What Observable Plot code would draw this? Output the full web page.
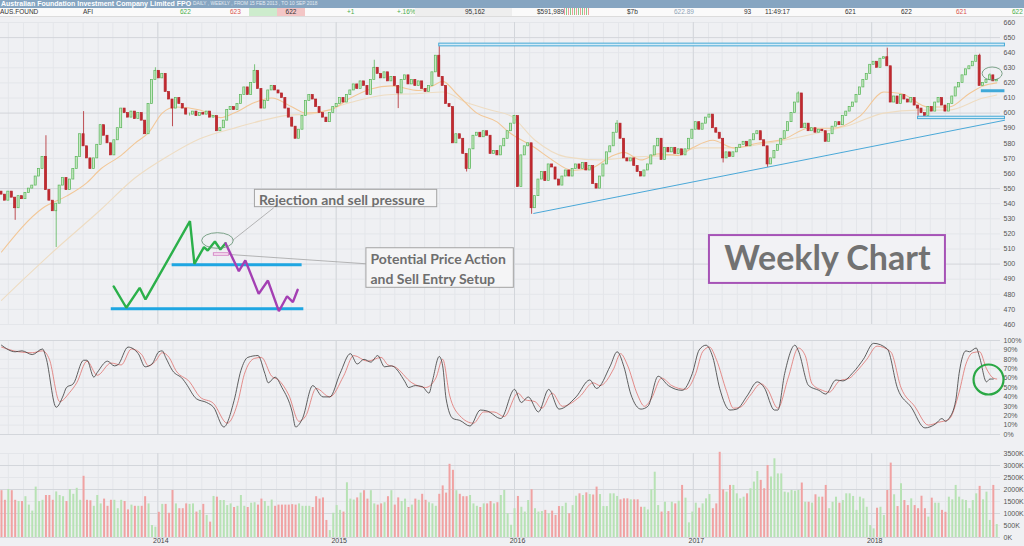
<!DOCTYPE html>
<html>
<head>
<meta charset="utf-8">
<script src="https://cdn.jsdelivr.net/npm/d3@7"></script>
<script src="https://cdn.jsdelivr.net/npm/@observablehq/plot@0.6"></script>
<style>
html,body{margin:0;padding:0;background:#eff0f3;}
#wrap{position:relative;width:1024px;height:546px;overflow:hidden;background:#eff0f3;font-family:"Liberation Sans",Arial,sans-serif;}
#tb{position:absolute;left:0;top:0;width:1024px;height:8px;background:#86a5c1;color:#fff;white-space:nowrap;}
#tb .t{position:absolute;left:1px;top:0;font-weight:bold;font-size:7px;line-height:8px;}
#tb .s{position:absolute;left:193px;top:0;font-size:4.8px;line-height:8px;color:#e4ebf2;}
#tk{position:absolute;left:0;top:8px;width:1024px;height:8px;background:#fafafa;border-bottom:1px solid #dcdcdc;font-size:6.5px;line-height:8px;color:#333;white-space:nowrap;}
#tk span{position:absolute;top:0;}
.panel{position:absolute;left:0;}
.panel svg{background:transparent;overflow:visible;}
</style>
</head>
<body>
<div id="wrap">
 <div id="tb"><span class="t">Australian Foundation Investment Company Limited FPO</span><span class="s">DAILY , WEEKLY , FROM 15 FEB 2013 , TO 10 SEP 2018</span></div>
 <div id="tk">
  <span style="left:0">AUS.FOUND</span>
  <span style="left:83px">AFI</span>
  <span style="left:180px;color:#4cae4c">622</span>
  <span style="left:230px;color:#d9534f">623</span>
  <span style="left:249px;width:28px;height:8px;background:#cdeccd"></span>
  <span style="left:277px;width:28px;height:8px;background:#f3c6c6;text-align:center">622</span>
  <span style="left:347px;color:#4cae4c">+1</span>
  <span style="left:397px;color:#4cae4c">+.16%</span>
  <span style="left:415px;width:97px;height:8px;background:#eeeeee"></span>
  <span style="left:465px">95,162</span>
  <span style="left:537px">$591,989</span>
  <span style="left:564px;width:25px;height:7px;background:repeating-linear-gradient(90deg,#e99 0 1px,transparent 1px 2px,#8c8 2px 3px,transparent 3px 4px)"></span>
  <span style="left:627px">$7b</span>
  <span style="left:674px;color:#8fa3b8">622.89</span>
  <span style="left:744px">93</span>
  <span style="left:765px">11:49:17</span>
  <span style="left:845px">621</span>
  <span style="left:901px">622</span>
  <span style="left:956px;color:#d9534f">621</span>
  <span style="left:1012px;color:#4cae4c">622</span>
 </div>
 <div id="price" class="panel" style="top:16px"></div>
 <div id="stoch" class="panel" style="top:335px"></div>
 <div id="vol" class="panel" style="top:440px"></div>
</div>
<script>
// ---------- DATA (weekly, from 15 Feb 2013) ----------
const firstOpen = 548;
const close = [
546,542,548,544,537,545,543,547,550,552,
558,563,571,549,542,535,540,552,557,549,
556,563,571,586,578,570,563,570,579,592,
585,580,572,582,590,603,600,597,601,596,
600,595,586,606,622,628,623,626,614,609,
603,610,606,603,599,599,601,598,600,599,
601,597,598,588,590,595,602,604,602,606,
612,617,612,620,628,616,603,608,615,618,
615,613,610,603,597,591,583,589,598,608,
612,609,604,600,597,594,600,604,606,610,
607,612,615,619,616,621,618,612,622,630,
626,623,627,621,624,618,613,622,625,619,
622,618,621,616,614,618,627,638,624,618,
606,604,580,586,583,573,563,576,585,587,
584,588,585,573,575,572,578,583,588,593,
598,551,572,578,580,537,545,556,561,555,
566,564,556,552,558,562,558,563,566,563,
567,562,565,553,550,558,566,574,578,587,
593,583,570,568,570,565,561,558,562,566,
572,578,583,569,577,574,577,573,576,572,
576,583,589,594,589,593,597,599,590,587,
583,570,574,571,574,577,579,581,578,582,
586,588,582,578,566,570,575,579,583,588,
594,600,607,613,590,593,588,590,587,589,
588,581,586,591,594,592,598,601,604,607,
612,617,622,626,632,634,630,636,637,631,
607,611,606,612,609,607,610,605,603,600,
598,604,601,607,610,605,601,606,611,617,
620,625,629,631,634,638,618,620,622,625,621,622];
// [week index, high, low] for the long wicks
const longWicks = [[4,null,528],[13,586,null],[16,null,510],[24,602,null],[45,631,null],[50,null,590],
[74,633,null],[109,636,null],[116,null,602],[128,645,null],[136,null,560],[155,null,532],[180,596,null],
[211,null,566],[224,null,563],[233,615,null],[259,644,null],[268,null,597],[286,640,null],[289,627,null]];
// volume, thousands
const volume = [
1950,1550,2000,1950,1550,1500,1500,1700,1350,1100,
2100,1500,1550,1750,1750,1550,1900,1750,1700,1500,
2000,1800,2050,1550,2550,1550,1530,1300,1750,1400,
1600,1300,1550,1550,1200,1550,1500,1150,1350,1300,
1300,1300,1700,1400,500,430,1050,1380,1380,1010,
1960,1400,1200,1200,1400,1380,1400,
1060,1130,1380,920,640,1710,1680,1540,1540,1330,
1400,1250,1300,1750,1300,1250,1430,1450,1350,1600,
1500,1300,1560,1300,1350,1350,1350,1350,1370,1350,
1400,1300,1300,1300,1250,1700,1600,1650,710,290,
1010,1330,1130,1060,2280,1600,1560,1650,1850,1950,
1600,1950,1400,1350,1400,1450,1700,1950,1350,1650,
1500,1600,1250,1350,1600,1550,1800,1550,1450,1400,
1300,1800,2150,1850,3050,2800,1950,1800,1700,1700,
1750,1400,1300,1250,1400,1400,1500,1400,1450,
1750,1960,990,510,1200,1710,1260,1060,1540,1990,
1200,1060,1080,1130,990,1100,920,1290,1290,1430,
990,1330,1720,1820,1750,1860,1790,1770,2100,1790,
1290,1290,1820,1820,1710,1570,1610,1610,1570,1570,
1570,1260,1260,1150,1990,2720,1330,1060,1470,1080,
1470,1400,1510,2170,1640,610,1060,1430,1220,1400,
1610,1790,1200,1400,3550,1990,1890,2170,2170,1820,
1610,1680,1820,2030,2310,2750,2380,2030,3000,2520,
3280,2650,2650,1890,1860,1960,1930,1960,2270,1470,
1470,1430,1780,1680,1680,2170,1200,1470,1680,1430,
1540,1820,1820,1710,1130,1680,1610,1260,500,360,
1220,1260,920,1960,3100,1780,1290,2240,1540,1330,
1610,1330,1200,1720,1200,850,1640,1430,1430,
1130,1050,1680,1570,2170,1680,1570,1540,1200,1540,1820,2130,1570,1890,710,2170,540];
// moving averages: [week index, value]
const maFast = [[0,508],[12,537],[19,545],[25,554],[29,563],[35,572],[39,580],[43,587],[47,600],[51,604],[58,602],[64,597],[68,600],[74,607],[79,610],[85,604],[89,600],[96,602],[102,610],[108,616],[114,618],[122,615],[126,618],[129,621],[133,613],[139,600],[145,594],[148,588],[156,577],[161,569],[167,562],[173,564],[178,571],[182,574],[187,569],[192,573],[198,572],[202,577],[208,582],[214,577],[221,580],[229,583],[236,590],[243,590],[251,598],[258,614],[263,613],[271,604],[277,604],[283,613],[287,618],[291,620]];
const maSlow = [[0,476],[6,489],[14,506],[29,536],[39,557],[49,572],[58,583],[68,590],[76,595],[82,598],[92,600],[102,607],[112,612],[122,613],[129,614],[136,607],[143,602],[149,598],[156,582],[165,571],[175,569],[185,571],[195,572],[204,577],[214,577],[221,579],[239,587],[248,592],[258,600],[268,602],[277,602],[287,610],[291,612]];
// stochastic %K (black) and %D (red): [week index, %]
const stochK = [[0,95],[4,88],[6,89],[9,85],[12,91],[13,82],[16,29],[18,41],[19,50],[21,54],[24,79],[25,79],[27,61],[28,66],[31,78],[33,73],[34,74],[37,93],[40,86],[42,72],[44,75],[46,88],[47,89],[48,82],[50,68],[53,59],[54,54],[57,38],[60,34],[62,29],[65,8],[68,36],[70,68],[72,82],[75,84],[77,65],[78,55],[80,61],[82,50],[85,24],[86,8],[88,17],[91,52],[94,40],[96,40],[99,65],[102,86],[104,75],[106,80],[108,77],[110,84],[112,72],[114,73],[118,56],[119,50],[121,52],[123,51],[125,44],[126,57],[128,83],[129,73],[130,38],[132,17],[134,15],[137,9],[140,26],[142,25],[146,17],[150,48],[152,34],[154,40],[157,24],[160,48],[163,27],[168,40],[172,58],[174,49],[178,73],[180,88],[182,72],[184,43],[187,27],[189,30],[192,62],[195,52],[199,47],[202,65],[204,90],[206,95],[208,82],[210,49],[213,26],[215,27],[218,41],[221,56],[223,50],[226,26],[227,26],[229,65],[232,95],[233,89],[236,52],[239,47],[241,43],[244,58],[246,57],[249,66],[252,80],[255,97],[259,91],[262,49],[266,29],[270,7],[273,11],[275,17],[276,14],[277,17],[279,36],[280,65],[282,89],[283,88],[285,92],[286,82],[288,56],[289,59],[290,59]];
const stochD = [[0,93],[5,88],[9,87],[12,89],[14,80],[17,35],[20,45],[22,55],[25,78],[28,63],[32,76],[35,74],[38,91],[41,85],[43,73],[45,78],[47,87],[49,82],[51,68],[55,56],[58,40],[62,33],[66,12],[69,33],[71,64],[74,81],[76,82],[79,62],[81,58],[84,42],[87,14],[89,20],[92,49],[96,40],[100,62],[103,84],[107,78],[111,82],[113,74],[115,72],[120,55],[124,50],[127,60],[129,80],[131,42],[134,20],[138,12],[141,24],[144,24],[147,19],[151,44],[153,37],[156,35],[158,28],[161,44],[164,30],[169,40],[173,55],[175,52],[179,70],[181,86],[183,74],[186,42],[188,30],[190,38],[193,60],[196,52],[200,48],[203,65],[205,88],[207,93],[209,80],[212,46],[214,28],[216,29],[219,42],[222,54],[224,48],[227,28],[230,60],[233,92],[235,84],[237,54],[240,47],[242,45],[245,57],[248,60],[250,67],[253,80],[256,94],[260,88],[263,50],[267,30],[271,10],[274,13],[277,16],[280,45],[282,75],[284,87],[286,88],[288,70],[290,60],[291,59]];
// annotations in [week index, price]
const resistanceBands = [{i1:128,i2:293.4,p1:644.2,p2:646.0},{i1:268,i2:293.4,p1:596.0,p2:597.6}];
const supportLevel = [{i1:286.5,i2:293.4,p:614.8}];
const trendLine = [{i1:155.5,p1:533.5,i2:293.4,p2:595.3}];
const sketchUp = [[32.8,485.2],[36.5,471.1],[40.4,484.3],[42.1,476.6],[55.1,528.4],[56.4,500.2],[59.2,511.2],[60.3,509.0],[62.4,515.0],[64.0,509.7],[65.5,513.8]];
const sketchDown = [[65.5,513.8],[69.4,495.3],[71.3,502.4],[75.2,480.3],[77.9,489.1],[81.1,468.8],[83.5,478.7],[85.2,474.8],[86.6,483.0]];
const sketchLevels = [{i1:49.9,i2:87.9,p:499.5},{i1:32.1,i2:88.4,p:470.4}];
const sketchEntry = [{i1:62.1,i2:66.5,p1:505.5,p2:507.2}];
const leaders = [{i1:67.5,p1:515.6,i2:79.6,p2:537.3},{i1:66.4,p1:506.4,i2:106.7,p2:500.2}];
const noteBoxes = [{i1:74.1,i2:127.4,p1:537.7,p2:549.2},{i1:106.7,i2:149.8,p1:484.3,p2:510.5}];
const notes = [{i:75.3,p:543.4,text:"Rejection and sell pressure"},{i:107.9,p:497.6,text:"Potential Price Action\nand Sell Entry Setup"}];
const titleBox = [{i1:207.0,i2:276.0,p1:487.2,p2:518.9}];
const titleNote = [{i:241.5,p:503.0,text:"Weekly Chart"}];
const ellipses = [{i:63.3,p:515.3,rx:15.8,ry:7.8},{i:289.8,p:625.9,rx:10,ry:6.5}];
const stochCircle = [{i:288.6,v:58.5}];
const priceTicks = d3.range(460, 661, 10);
const stochTicks = d3.range(0, 101, 10);
const volTicks = d3.range(0, 3501, 500);

// ---------- helpers ----------
const DAY = 864e5;
const start = Date.UTC(2013, 1, 15);
const wk = i => new Date(start + i * 7 * DAY);
const candles = close.map((c, i) => {
  const o = i ? close[i - 1] : firstOpen;
  const w = longWicks.find(d => d[0] === i) || [];
  return {date: wk(i), o, c, hi: Math.max(o, c, w[1] ?? -Infinity), lo: Math.min(o, c, w[2] ?? Infinity), up: c >= o, vol: volume[i]};
});
const ups = candles.filter(d => d.up), downs = candles.filter(d => !d.up);
const months = d3.utcMonth.range(wk(-1), wk(293));
const years = d3.utcYear.range(wk(0), wk(292));
const X0 = wk(-0.29), X1 = wk(292.1);
const xScale = {type: "utc", domain: [X0, X1], axis: null};
const W = 1024, ML = 0, MR = 24;
const common = {width: W, marginLeft: ML, marginRight: MR, style: {background: "transparent", fontFamily: "Liberation Sans, Arial, sans-serif", fontSize: "7px", color: "#555", overflow: "visible"}};
const G1 = "#e4e6ea", G2 = "#d3d6db";
const bw = 2.1 * DAY;

// ---------- price panel ----------
const pricePlot = Plot.plot({
  ...common, height: 319, marginTop: 6, marginBottom: 11,
  x: xScale, y: {domain: [460, 660], label: null},
  marks: [
    Plot.ruleX(months, {stroke: G1, y1: 460, y2: 660}),
    Plot.ruleY(priceTicks.filter(d => d % 50 !== 0), {stroke: G1, x1: X0, x2: X1}),
    Plot.ruleY(priceTicks.filter(d => d % 50 === 0), {stroke: G2, x1: X0, x2: X1}),
    Plot.ruleX(years, {stroke: G2, y1: 460, y2: 660}),
    Plot.axisY({ticks: priceTicks, anchor: "right", tickSize: 0, tickPadding: 3, fontSize: 7, fill: "#555", label: null}),
    Plot.line(maSlow, {x: d => wk(d[0]), y: d => d[1], stroke: "#eedcc2", strokeWidth: 1.1, curve: "monotone-x"}),
    Plot.line(maFast, {x: d => wk(d[0]), y: d => d[1], stroke: "#f2c797", strokeWidth: 1.1, curve: "monotone-x"}),
    Plot.ruleX(ups, {x: "date", y1: "lo", y2: "hi", stroke: "#5cb85c", strokeWidth: 0.8, insetTop: -1.5, insetBottom: -1.5}),
    Plot.ruleX(downs, {x: "date", y1: "lo", y2: "hi", stroke: "#b2262c", strokeWidth: 0.8, insetTop: -1.5, insetBottom: -1.5}),
    Plot.rect(ups, {x1: d => new Date(+d.date - bw), x2: d => new Date(+d.date + bw), y1: "o", y2: "c", fill: "#c8e9c4", stroke: "#58b558", strokeWidth: 0.7}),
    Plot.rect(downs, {x1: d => new Date(+d.date - bw), x2: d => new Date(+d.date + bw), y1: "o", y2: "c", fill: "#c22a2f", stroke: "#b3232a", strokeWidth: 0.7}),
    // chart levels
    Plot.rect(resistanceBands, {x1: d => wk(d.i1), x2: d => wk(d.i2), y1: "p1", y2: "p2", fill: "#d5ecf7", stroke: "#45a9d6", strokeWidth: 1}),
    Plot.ruleY(supportLevel, {y: "p", x1: d => wk(d.i1), x2: d => wk(d.i2), stroke: "#3fa9d9", strokeWidth: 3}),
    Plot.link(trendLine, {x1: d => wk(d.i1), y1: "p1", x2: d => wk(d.i2), y2: "p2", stroke: "#4aa8d8", strokeWidth: 1}),
    // sketch
    Plot.ruleY(sketchLevels, {y: "p", x1: d => wk(d.i1), x2: d => wk(d.i2), stroke: "#1ea6e2", strokeWidth: 3}),
    Plot.link(leaders, {x1: d => wk(d.i1), y1: "p1", x2: d => wk(d.i2), y2: "p2", stroke: "#9a9a9a", strokeWidth: 0.7}),
    Plot.line(sketchUp, {x: d => wk(d[0]), y: d => d[1], stroke: "#2bb04a", strokeWidth: 2.4, strokeLinejoin: "miter"}),
    Plot.line(sketchDown, {x: d => wk(d[0]), y: d => d[1], stroke: "#a43fb3", strokeWidth: 2.4, strokeLinejoin: "miter"}),
    Plot.rect(sketchEntry, {x1: d => wk(d.i1), x2: d => wk(d.i2), y1: "p1", y2: "p2", fill: "#f8e6f3", stroke: "#d68cc8", strokeWidth: 1}),
    // notes
    Plot.rect(noteBoxes, {x1: d => wk(d.i1), x2: d => wk(d.i2), y1: "p1", y2: "p2", fill: "#f5f5f6", stroke: "#a3a3a3", strokeWidth: 1}),
    Plot.text(notes, {x: d => wk(d.i), y: "p", text: "text", textAnchor: "start", fontFamily: "Lato", fontWeight: "bold", fontSize: 14, fill: "#6e6e6e", lineHeight: 1.42}),
    Plot.rect(titleBox, {x1: d => wk(d.i1), x2: d => wk(d.i2), y1: "p1", y2: "p2", fill: "#f2f2f5", stroke: "#a653b6", strokeWidth: 2}),
    Plot.text(titleNote, {x: d => wk(d.i), y: "p", text: "text", fontFamily: "Lato", fontWeight: "bold", fontSize: 34, fill: "#727272"})
  ]
});
// ellipses drawn through the plot's own scales
try {
  const sx = pricePlot.scale("x"), sy = pricePlot.scale("y");
  const g = d3.select(pricePlot).append("g").attr("fill", "none");
  ellipses.forEach(e => g.append("ellipse")
    .attr("cx", sx.apply(wk(e.i))).attr("cy", sy.apply(e.p))
    .attr("rx", e.rx).attr("ry", e.ry)
    .attr("stroke", "#5f8f6f").attr("stroke-width", 0.8));
} catch (err) {}
document.getElementById("price").append(pricePlot);

// ---------- stochastic panel ----------
const stochPlot = Plot.plot({
  ...common, height: 105, marginTop: 5, marginBottom: 6,
  x: xScale, y: {domain: [0, 100], label: null},
  marks: [
    Plot.ruleX(months, {stroke: G1, y1: 0, y2: 100}),
    Plot.ruleY(stochTicks.filter(d => d % 100 !== 0), {stroke: G1, x1: X0, x2: X1}),
    Plot.ruleY([0, 100], {stroke: G2, x1: X0, x2: X1}),
    Plot.ruleX(years, {stroke: G2, y1: 0, y2: 100}),
    Plot.axisY({ticks: stochTicks, tickFormat: d => d + "%", anchor: "right", tickSize: 0, tickPadding: 3, fontSize: 7, fill: "#555", label: null}),
    Plot.line(stochD, {x: d => wk(d[0]), y: d => d[1], stroke: "#e0726e", strokeWidth: 0.8, curve: "monotone-x"}),
    Plot.line(stochK, {x: d => wk(d[0]), y: d => d[1], stroke: "#3a3a3a", strokeWidth: 0.8, curve: "monotone-x"}),
    Plot.dot(stochCircle, {x: d => wk(d.i), y: "v", r: 15, fill: "none", stroke: "#2aa845", strokeWidth: 2.2})
  ]
});
document.getElementById("stoch").append(stochPlot);

// ---------- volume panel ----------
const volPlot = Plot.plot({
  ...common, height: 106, marginTop: 13, marginBottom: 9,
  x: {type: "utc", domain: [X0, X1]}, y: {domain: [0, 3500], label: null},
  marks: [
    Plot.ruleX(months, {stroke: G1, y1: 0, y2: 3500}),
    Plot.ruleY(volTicks.filter(d => d % 1000 !== 0), {stroke: G1, x1: X0, x2: X1}),
    Plot.ruleY(volTicks.filter(d => d % 1000 === 0), {stroke: G2, x1: X0, x2: X1}),
    Plot.ruleX(years, {stroke: G2, y1: 0, y2: 3500}),
    Plot.axisY({ticks: volTicks, tickFormat: d => d + "K", anchor: "right", tickSize: 0, tickPadding: 3, fontSize: 7, fill: "#555", label: null}),
    Plot.axisX({ticks: years, tickFormat: d3.utcFormat("%Y"), anchor: "bottom", tickSize: 0, tickPadding: 1, fontSize: 7, fill: "#444", dx: 3, label: null}),
    Plot.ruleX(ups, {x: "date", y1: 0, y2: "vol", stroke: "#b7e2b4", strokeWidth: 2}),
    Plot.ruleX(downs, {x: "date", y1: 0, y2: "vol", stroke: "#f0a2a2", strokeWidth: 2})
  ]
});
document.getElementById("vol").append(volPlot);
</script>
</body>
</html>
